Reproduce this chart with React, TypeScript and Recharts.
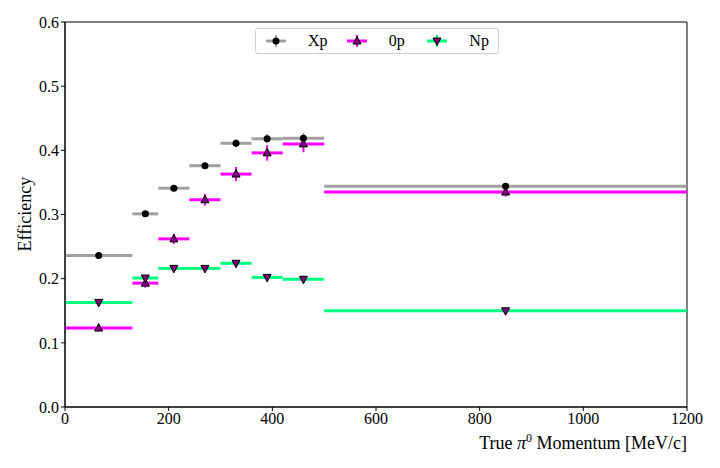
import { ComposedChart, Scatter, XAxis, YAxis, ErrorBar, ReferenceArea } from "recharts";

const centers = [65, 155, 210, 270, 330, 390, 460, 850];
const halfWidths = [65, 25, 30, 30, 30, 30, 40, 350];
const xpValues = [0.236, 0.301, 0.341, 0.376, 0.411, 0.418, 0.419, 0.344];
const xpErrors = [0.003, 0.004, 0.004, 0.005, 0.006, 0.007, 0.008, 0.005];
const zeroPValues = [0.123, 0.193, 0.262, 0.323, 0.363, 0.396, 0.41, 0.335];
const zeroPErrors = [0.005, 0.007, 0.008, 0.009, 0.011, 0.012, 0.013, 0.007];
const npValues = [0.163, 0.201, 0.216, 0.216, 0.224, 0.202, 0.199, 0.15];
const npErrors = [0.003, 0.004, 0.004, 0.004, 0.005, 0.005, 0.006, 0.003];
const xTicks = [0, 200, 400, 600, 800, 1000, 1200];
const yTicks = [0, 0.1, 0.2, 0.3, 0.4, 0.5, 0.6];

const build = (vals: number[], errs: number[]) =>
  centers.map((x, i) => ({ x, y: vals[i], xErr: halfWidths[i], yErr: errs[i] }));

const xpData = build(xpValues, xpErrors);
const zeroPData = build(zeroPValues, zeroPErrors);
const npData = build(npValues, npErrors);

const font = "'Liberation Serif', serif";

const Circle = (p: any) => <circle cx={p.cx} cy={p.cy} r={3.5} fill="black" />;
const TriUp = (p: any) => (
  <polygon
    points={`${p.cx},${p.cy - 4.5} ${p.cx - 4},${p.cy + 3} ${p.cx + 4},${p.cy + 3}`}
    fill="#800080"
    stroke="black"
    strokeWidth={1}
  />
);
const TriDown = (p: any) => (
  <polygon
    points={`${p.cx},${p.cy + 4.5} ${p.cx - 4},${p.cy - 3} ${p.cx + 4},${p.cy - 3}`}
    fill="#800080"
    stroke="black"
    strokeWidth={1}
  />
);

const legendItems = [
  { label: "Xp", color: "#a0a0a0", Marker: Circle },
  { label: "0p", color: "#ff00ff", Marker: TriUp },
  { label: "Np", color: "#00ff7f", Marker: TriDown },
];

export default function App() {
  return (
    <div style={{ position: "absolute", left: 0, top: 0, width: 720, height: 468, background: "white", fontFamily: font }}>
      <ComposedChart width={720} height={468} margin={{ top: 22, right: 33, bottom: 11, left: 15 }}>
        <XAxis
          type="number"
          dataKey="x"
          domain={[0, 1200]}
          ticks={xTicks}
          height={50}
          tick={{ fill: "black", fontSize: 16, fontFamily: font }}
          stroke="black"
          tickSize={4}
          allowDataOverflow
        />
        <YAxis
          type="number"
          dataKey="y"
          domain={[0, 0.6]}
          ticks={yTicks}
          width={50}
          tick={{ fill: "black", fontSize: 16, fontFamily: font }}
          tickFormatter={(v: number) => v.toFixed(1)}
          stroke="black"
          tickSize={4}
          allowDataOverflow
        />
        <ReferenceArea x1={0} x2={1200} y1={0} y2={0.6} fill="none" stroke="black" strokeWidth={1} />
        <Scatter data={xpData} shape={Circle} isAnimationActive={false}>
          <ErrorBar dataKey="xErr" direction="x" width={0} stroke="#a0a0a0" strokeWidth={3} />
          <ErrorBar dataKey="yErr" direction="y" width={0} stroke="#a0a0a0" strokeWidth={2} />
        </Scatter>
        <Scatter data={zeroPData} shape={TriUp} isAnimationActive={false}>
          <ErrorBar dataKey="xErr" direction="x" width={0} stroke="#ff00ff" strokeWidth={3} />
          <ErrorBar dataKey="yErr" direction="y" width={0} stroke="#ff00ff" strokeWidth={2} />
        </Scatter>
        <Scatter data={npData} shape={TriDown} isAnimationActive={false}>
          <ErrorBar dataKey="xErr" direction="x" width={0} stroke="#00ff7f" strokeWidth={3} />
          <ErrorBar dataKey="yErr" direction="y" width={0} stroke="#00ff7f" strokeWidth={2} />
        </Scatter>
      </ComposedChart>
      <div style={{ position: "absolute", left: 8, top: 204, transform: "rotate(-90deg)", transformOrigin: "center", fontSize: 18, width: 34, textAlign: "center" }}>
        <span style={{ display: "inline-block", whiteSpace: "nowrap", marginLeft: -20 }}>Efficiency</span>
      </div>
      <div style={{ position: "absolute", right: 33, top: 431, fontSize: 18, whiteSpace: "nowrap" }}>
        True <i>π</i><sup style={{ fontSize: 12 }}>0</sup> Momentum [MeV/c]
      </div>
      <div
        style={{
          position: "absolute", left: 255, top: 28, width: 242, height: 24, border: "1px solid #d0d0d0",
          borderRadius: 3, display: "flex", alignItems: "center", fontSize: 16, background: "white",
        }}
      >
        {legendItems.map(({ label, color, Marker }) => (
          <div key={label} style={{ display: "flex", alignItems: "center", marginLeft: 8, width: 76 }}>
            <svg width={24} height={16}>
              <line x1={2} x2={22} y1={8} y2={8} stroke={color} strokeWidth={3} />
              <line x1={12} x2={12} y1={2} y2={14} stroke={color} strokeWidth={2} />
              <Marker cx={12} cy={8} />
            </svg>
            <span style={{ marginLeft: 20 }}>{label}</span>
          </div>
        ))}
      </div>
    </div>
  );
}
